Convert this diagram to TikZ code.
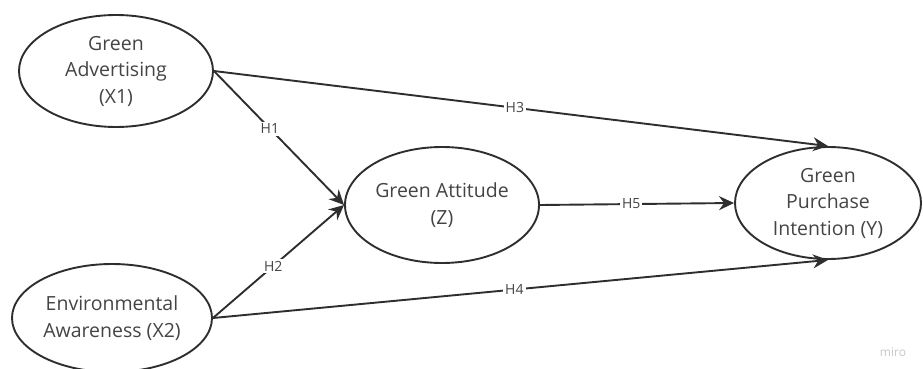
\documentclass[tikz,border=0pt]{standalone}
\usepackage{fontspec}
\setmainfont{Open Sans}
\usetikzlibrary{shapes.geometric,arrows.meta}
\definecolor{ink}{HTML}{2E2E2E}
\definecolor{txt}{HTML}{444444}
\tikzset{
  construct/.style={ellipse, draw=ink, line width=1.9pt, inner sep=0pt,
    text=txt, align=center, font=\fontsize{19.5}{26.5}\selectfont},
  path/.style={draw=ink, line width=1.9pt, -{Stealth[length=15pt,width=14pt,inset=5pt]}},
  hyp/.style={fill=white, text=txt, inner sep=2pt, font=\fontsize{14}{16}\selectfont}
}
\begin{document}
\begin{tikzpicture}[x=1pt,y=-1pt]
\useasboundingbox (0,0) rectangle (923,369);
% latent constructs
\node[construct, minimum width=194pt, minimum height=112pt] (x1) at (116,71)
  {Green\\Advertising\\(X1)};
\node[construct, minimum width=200pt, minimum height=108pt] (x2) at (112,318)
  {Environmental\\Awareness (X2)};
\node[construct, minimum width=194pt, minimum height=116pt] (z) at (442,205)
  {Green Attitude\\(Z)};
\node[construct, minimum width=186pt, minimum height=112pt] (y) at (828,203)
  {Green\\Purchase\\Intention (Y)};
% hypothesised paths
\draw[path] (x1.east) -- node[hyp, pos=0.43] {H1} (z.west);
\draw[path] (x2.east) -- node[hyp, pos=0.46] {H2} (z.west);
\draw[path] (x1.east) -- node[hyp, pos=0.49] {H3} (y.north);
\draw[path] (x2.east) -- node[hyp, pos=0.49] {H4} (y.south);
\draw[path] (z.east) -- node[hyp, pos=0.47] {H5} (y.west);
% watermark
\node[text=black!22, font=\fontsize{12}{14}\selectfont] (mark) at (893,352) {miro};
\end{tikzpicture}
\end{document}
